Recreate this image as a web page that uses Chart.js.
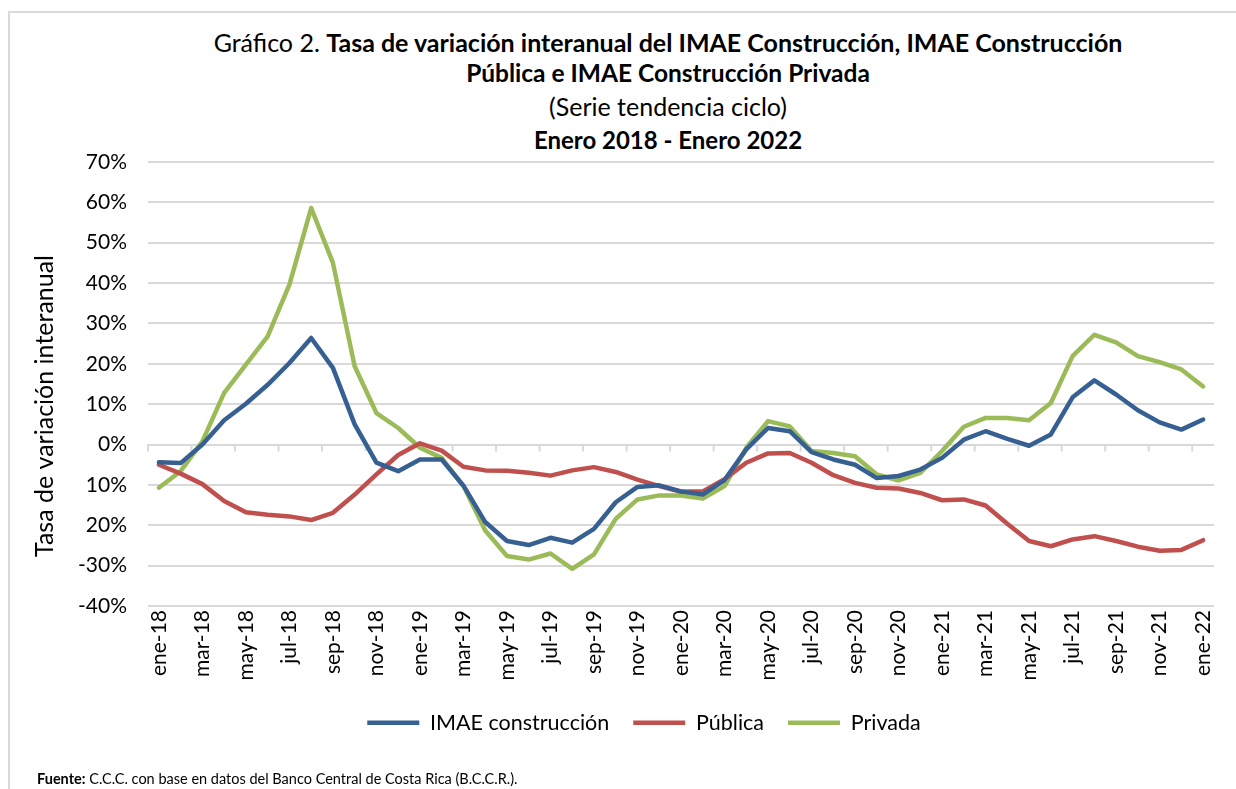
<!DOCTYPE html>
<html>
<head>
<meta charset="utf-8">
<script src="https://cdn.jsdelivr.net/npm/chart.js@4.4.1/dist/chart.umd.min.js"></script>
<style>
  html, body { margin: 0; padding: 0; background: #fff; }
  body { width: 1236px; height: 789px; position: relative; overflow: hidden; font-family: Lato, "Noto Sans", sans-serif; color: #000; }
  #frame { position: absolute; left: 8px; top: 11px; width: 1240px; height: 800px; border-top: 2px solid #d9d9d9; border-left: 2px solid #d9d9d9; }
  #chart { position: absolute; left: 0; top: 0; }
  .tl { position: absolute; left: 0; width: 1236px; text-align: center; font-size: 24.5px; line-height: 28px; padding-left: 100px; box-sizing: border-box; white-space: nowrap; }
  #foot { position: absolute; left: 37px; top: 770px; font-size: 14.5px; white-space: nowrap; }
</style>
</head>
<body>
<div id="frame"></div>
<div class="tl" style="top:28px;font-size:25px">Gráfico 2. <b>Tasa de variación interanual del IMAE Construcción, IMAE Construcción</b></div>
<div class="tl" style="top:59px"><b>Pública e IMAE Construcción Privada</b></div>
<div class="tl" style="top:92px;font-size:25px">(Serie tendencia ciclo)</div>
<div class="tl" style="top:126px;font-size:24px"><b>Enero 2018 - Enero 2022</b></div>
<canvas id="chart" width="1236" height="789"></canvas>
<div id="foot"><b>Fuente:</b> C.C.C. con base en datos del Banco Central de Costa Rica (B.C.C.R.).</div>
<script>
// months ene-18 .. ene-22
const months = [
  'ene-18','feb-18','mar-18','abr-18','may-18','jun-18','jul-18','ago-18','sep-18','oct-18','nov-18','dic-18',
  'ene-19','feb-19','mar-19','abr-19','may-19','jun-19','jul-19','ago-19','sep-19','oct-19','nov-19','dic-19',
  'ene-20','feb-20','mar-20','abr-20','may-20','jun-20','jul-20','ago-20','sep-20','oct-20','nov-20','dic-20',
  'ene-21','feb-21','mar-21','abr-21','may-21','jun-21','jul-21','ago-21','sep-21','oct-21','nov-21','dic-21',
  'ene-22'
];

const imae = [-4.4, -4.6, 0.0, 6.0, 10.1, 14.8, 20.2, 26.4, 19.0, 5.0, -4.5, -6.6, -3.7, -3.7, -10.2,
  -19.2, -23.9, -24.9, -23.1, -24.3, -20.9, -14.3, -10.5, -10.1, -11.6, -12.4, -8.8, -1.2, 4.1, 3.3,
  -1.9, -3.7, -5.0, -8.3, -7.8, -6.2, -3.3, 1.2, 3.3, 1.4, -0.3, 2.5, 11.7, 15.9, 12.4, 8.5, 5.5, 3.7, 6.2];

const publica = [-5.0, -7.2, -9.8, -14.0, -16.8, -17.4, -17.8, -18.7, -16.9, -12.4, -7.4, -2.6, 0.3, -1.5, -5.5,
  -6.4, -6.5, -7.0, -7.7, -6.4, -5.6, -6.8, -8.7, -10.3, -11.7, -11.6, -8.6, -4.5, -2.2, -2.1,
  -4.5, -7.6, -9.5, -10.7, -10.9, -12.0, -13.8, -13.6, -15.1, -19.6, -23.9, -25.2, -23.5, -22.7, -23.9, -25.3, -26.3, -26.1, -23.7];

const privada = [-10.7, -6.6, 0.8, 12.8, 19.8, 26.8, 39.6, 58.6, 45.0, 19.4, 7.8, 4.1, -0.8, -3.3, -10.3,
  -21.3, -27.6, -28.5, -27.0, -30.8, -27.2, -18.4, -13.6, -12.6, -12.6, -13.4, -10.3, -0.8, 5.8, 4.5,
  -1.6, -2.1, -2.9, -7.4, -8.9, -7.0, -1.6, 4.4, 6.6, 6.6, 6.0, 10.3, 21.9, 27.2, 25.3, 21.9, 20.4, 18.6, 14.4];

// tick labels as printed in the original (minus signs missing on -10 and -20)
const yTickValues = [-40, -30, -20, -10, 0, 10, 20, 30, 40, 50, 60, 70];
const yTickLabels = ['-40%', '-30%', '20%', '10%', '0%', '10%', '20%', '30%', '40%', '50%', '60%', '70%'];

const yTitle = 'Tasa de variación interanual';

const FONT = 'Lato, "Noto Sans", sans-serif';
const GRID = '#d9d9d9';

// tick marks hanging below the 0% line, every two months
const zeroTicks = {
  id: 'zeroTicks',
  beforeDatasetsDraw(chart) {
    const ctx = chart.ctx;
    const x = chart.scales.x;
    const y0 = chart.scales.y.getPixelForValue(0);
    const half = (x.getPixelForValue(1) - x.getPixelForValue(0)) / 2;
    ctx.save();
    ctx.strokeStyle = GRID;
    ctx.lineWidth = 2;
    ctx.beginPath();
    for (let i = 0; i <= months.length; i += 2) {
      const px = x.getPixelForValue(Math.min(i, months.length - 1)) + (i < months.length ? -half : half);
      ctx.moveTo(px, y0);
      ctx.lineTo(px, y0 + 7);
    }
    ctx.stroke();
    ctx.restore();
  }
};

// y axis title, placed like the original
const sideTitle = {
  id: 'sideTitle',
  afterDraw(chart) {
    const ctx = chart.ctx;
    ctx.save();
    ctx.translate(45, 406);
    ctx.rotate(-Math.PI / 2);
    ctx.font = '25px ' + FONT;
    ctx.fillStyle = '#000';
    ctx.textAlign = 'center';
    ctx.textBaseline = 'middle';
    ctx.fillText(yTitle, 0, 0);
    ctx.restore();
  }
};

function lineSet(label, data, color) {
  return {
    label: label,
    data: data,
    borderColor: color,
    backgroundColor: color,
    borderWidth: 4.5,
    borderCapStyle: 'round',
    borderJoinStyle: 'round',
    pointRadius: 0,
    tension: 0,
    fill: false
  };
}

new Chart(document.getElementById('chart'), {
  type: 'line',
  data: {
    labels: months,
    datasets: [
      lineSet('IMAE construcción', imae, '#376092'),
      lineSet('Pública', publica, '#c0504d'),
      lineSet('Privada', privada, '#9bbb59')
    ]
  },
  options: {
    responsive: false,
    animation: false,
    // left padding pushes the legend's centre to where the original has it
    layout: { padding: { top: 162, left: 74, right: 22, bottom: 45.5 } },
    plugins: {
      legend: {
        position: 'bottom',
        labels: {
          usePointStyle: true,
          pointStyle: 'line',
          pointStyleWidth: 52,
          boxHeight: 20,
          padding: 24,
          color: '#000',
          font: { family: FONT, size: 21.5 }
        }
      },
      tooltip: { enabled: false }
    },
    scales: {
      x: {
        offset: true,
        grid: { display: false, drawTicks: false },
        border: { display: false },
        ticks: {
          autoSkip: false,
          maxRotation: 90,
          minRotation: 90,
          padding: 4,
          color: '#000',
          font: { family: FONT, size: 21 },
          callback: (v, i) => (i % 2 === 0 ? months[i] : '')
        },
        afterFit: (scale) => { scale.height = 82; }
      },
      y: {
        min: -40,
        max: 70,
        grid: { color: GRID, lineWidth: 2, drawTicks: false },
        border: { display: false },
        afterBuildTicks: (scale) => { scale.ticks = yTickValues.map(v => ({ value: v })); },
        ticks: {
          padding: 21,
          color: '#000',
          font: { family: FONT, size: 21 },
          callback: (v) => yTickLabels[yTickValues.indexOf(v)]
        },
        afterFit: (scale) => { scale.width = 74; }
      }
    }
  },
  plugins: [zeroTicks, sideTitle]
});
</script>
</body>
</html>
